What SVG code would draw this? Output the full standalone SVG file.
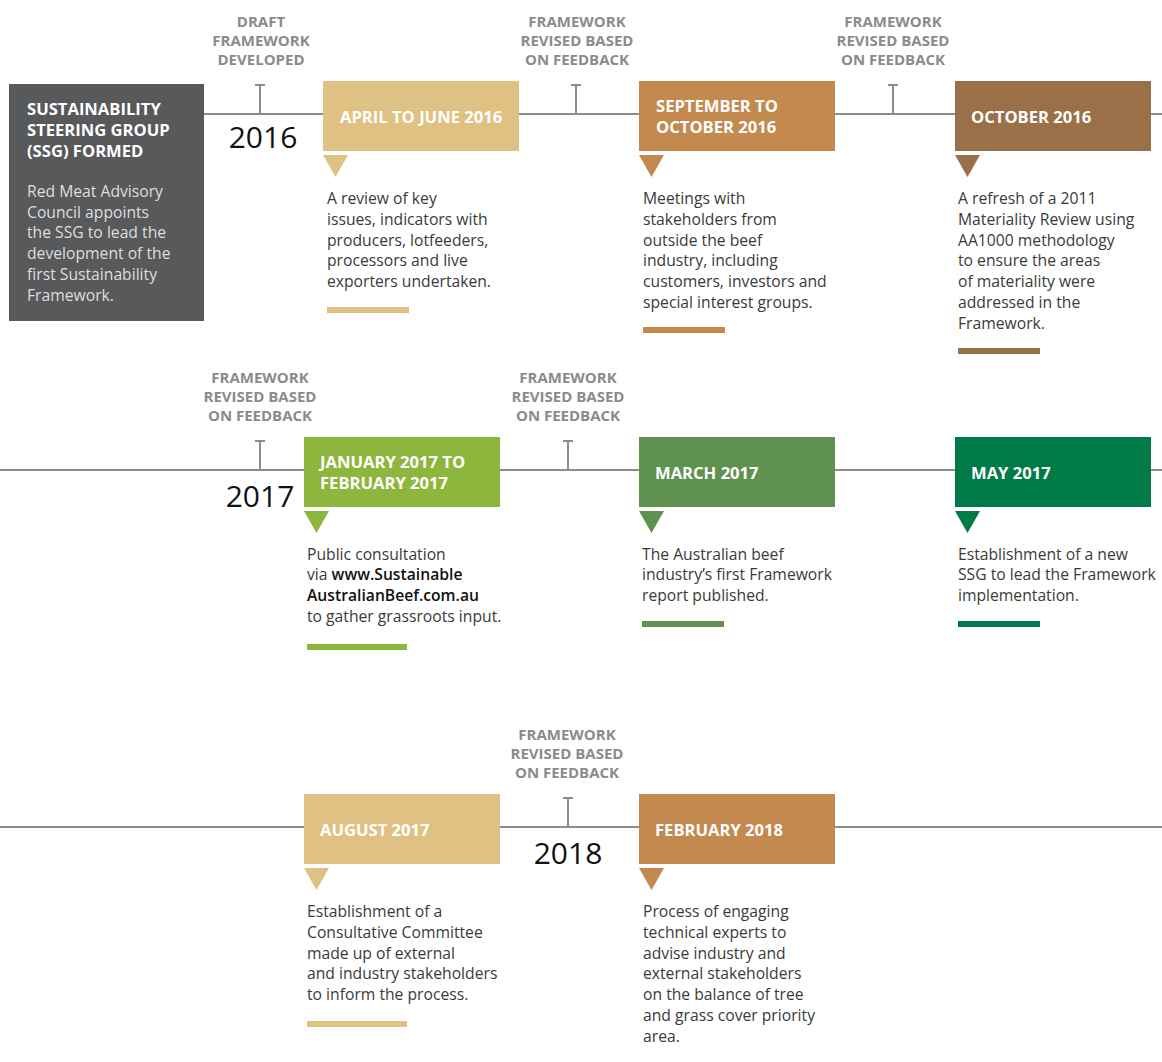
<svg xmlns="http://www.w3.org/2000/svg" width="1162" height="1062" viewBox="0 0 1162 1062">
<style>
text{font-family:"Open Sans","Noto Sans","Liberation Sans",sans-serif}
.tl{stroke:#8c8c8c;stroke-width:2.2;fill:none}
.tick{stroke:#8c8c8c;stroke-width:2;fill:none}
.tlab{font-size:15px;font-weight:700;fill:#8a8b8d;text-anchor:middle}
.yr{font-size:30px;fill:#111;text-anchor:middle}
.hd{font-size:16.6px;font-weight:700;fill:#fff}
.ds{font-size:15.7px;fill:#3a3a3a}
.ssgb{font-size:15.7px;fill:#dedede}
.b{font-weight:600;fill:#111}
.tan{fill:#dfc183}.cop{fill:#c4894f}.brn{fill:#9a7048}
.lime{fill:#8db63c}.mgr{fill:#5f9150}.dgr{fill:#007a47}
</style>
<rect width="1162" height="1062" fill="#fff"/>
<g id="connectors">
<line class="tl" x1="204" y1="114" x2="1162" y2="114"/>
<line class="tl" x1="0" y1="470" x2="1162" y2="470"/>
<line class="tl" x1="0" y1="827" x2="1162" y2="827"/>
<path class="tick" d="M260 85V114M255 85H265"/>
<path class="tick" d="M576 85V114M571 85H581"/>
<path class="tick" d="M893 85V114M888 85H898"/>
<path class="tick" d="M260 441V470M255 441H265"/>
<path class="tick" d="M568 441V470M563 441H573"/>
<path class="tick" d="M568 798V827M563 798H573"/>
</g>
<g id="milestone-draft">
<text class="tlab" x="261" y="27">DRAFT</text>
<text class="tlab" x="261" y="46">FRAMEWORK</text>
<text class="tlab" x="261" y="65">DEVELOPED</text>
</g>
<g id="milestone-rev1">
<text class="tlab" x="577" y="27">FRAMEWORK</text>
<text class="tlab" x="577" y="46">REVISED BASED</text>
<text class="tlab" x="577" y="65">ON FEEDBACK</text>
</g>
<g id="milestone-rev2">
<text class="tlab" x="893" y="27">FRAMEWORK</text>
<text class="tlab" x="893" y="46">REVISED BASED</text>
<text class="tlab" x="893" y="65">ON FEEDBACK</text>
</g>
<g id="milestone-rev3">
<text class="tlab" x="260" y="383">FRAMEWORK</text>
<text class="tlab" x="260" y="402">REVISED BASED</text>
<text class="tlab" x="260" y="421">ON FEEDBACK</text>
</g>
<g id="milestone-rev4">
<text class="tlab" x="568" y="383">FRAMEWORK</text>
<text class="tlab" x="568" y="402">REVISED BASED</text>
<text class="tlab" x="568" y="421">ON FEEDBACK</text>
</g>
<g id="milestone-rev5">
<text class="tlab" x="567" y="740">FRAMEWORK</text>
<text class="tlab" x="567" y="759">REVISED BASED</text>
<text class="tlab" x="567" y="778">ON FEEDBACK</text>
</g>
<g id="years">
<text class="yr" x="263" y="148">2016</text>
<text class="yr" x="260" y="507">2017</text>
<text class="yr" x="568" y="864">2018</text>
</g>
<g id="ssg">
<rect x="9" y="84" width="195" height="237" fill="#58595b"/>
<text class="hd" x="27" y="115">SUSTAINABILITY</text>
<text class="hd" x="27" y="136">STEERING GROUP</text>
<text class="hd" x="27" y="157">(SSG) FORMED</text>
<text class="ssgb" x="27" y="197">Red Meat Advisory</text>
<text class="ssgb" x="27" y="217.7">Council appoints</text>
<text class="ssgb" x="27" y="238.4">the SSG to lead the</text>
<text class="ssgb" x="27" y="259.1">development of the</text>
<text class="ssgb" x="27" y="279.8">first Sustainability</text>
<text class="ssgb" x="27" y="300.5">Framework.</text>
</g>
<g id="apr2016">
<rect class="tan" x="323" y="81" width="196" height="70"/>
<text class="hd" x="340" y="123">APRIL TO JUNE 2016</text>
<polygon class="tan" points="323,155 348,155 335.5,177"/>
<text class="ds" x="327" y="204">A review of key</text>
<text class="ds" x="327" y="224.8">issues, indicators with</text>
<text class="ds" x="327" y="245.6">producers, lotfeeders,</text>
<text class="ds" x="327" y="266.4">processors and live</text>
<text class="ds" x="327" y="287.2">exporters undertaken.</text>
<rect class="tan" x="327" y="307" width="82" height="6"/>
</g>
<g id="sep2016">
<rect class="cop" x="639" y="81" width="196" height="70"/>
<text class="hd" x="656" y="112">SEPTEMBER TO</text>
<text class="hd" x="656" y="133">OCTOBER 2016</text>
<polygon class="cop" points="639,155 664,155 651.5,177"/>
<text class="ds" x="643" y="204">Meetings with</text>
<text class="ds" x="643" y="224.8">stakeholders from</text>
<text class="ds" x="643" y="245.6">outside the beef</text>
<text class="ds" x="643" y="266.4">industry, including</text>
<text class="ds" x="643" y="287.2">customers, investors and</text>
<text class="ds" x="643" y="308">special interest groups.</text>
<rect class="cop" x="643" y="327" width="82" height="6"/>
</g>
<g id="oct2016">
<rect class="brn" x="955" y="81" width="196" height="70"/>
<text class="hd" x="971" y="123">OCTOBER 2016</text>
<polygon class="brn" points="955,155 980,155 967.5,177"/>
<text class="ds" x="958" y="204">A refresh of a 2011</text>
<text class="ds" x="958" y="224.8">Materiality Review using</text>
<text class="ds" x="958" y="245.6">AA1000 methodology</text>
<text class="ds" x="958" y="266.4">to ensure the areas</text>
<text class="ds" x="958" y="287.2">of materiality were</text>
<text class="ds" x="958" y="308">addressed in the</text>
<text class="ds" x="958" y="328.8">Framework.</text>
<rect class="brn" x="958" y="348" width="82" height="6"/>
</g>
<g id="jan2017">
<rect class="lime" x="304" y="437" width="196" height="70"/>
<text class="hd" x="320" y="468">JANUARY 2017 TO</text>
<text class="hd" x="320" y="489">FEBRUARY 2017</text>
<polygon class="lime" points="304,511 329,511 316.5,533"/>
<text class="ds" x="307" y="559.5">Public consultation</text>
<text class="ds" x="307" y="580.3">via <tspan class="b">www.Sustainable</tspan></text>
<text class="ds" x="307" y="601.1"><tspan class="b">AustralianBeef.com.au</tspan></text>
<text class="ds" x="307" y="621.9">to gather grassroots input.</text>
<rect class="lime" x="307" y="644" width="100" height="6"/>
</g>
<g id="mar2017">
<rect class="mgr" x="639" y="437" width="196" height="70"/>
<text class="hd" x="655" y="479">MARCH 2017</text>
<polygon class="mgr" points="639,511 664,511 651.5,533"/>
<text class="ds" x="642" y="559.5">The Australian beef</text>
<text class="ds" x="642" y="580.3">industry’s first Framework</text>
<text class="ds" x="642" y="601.1">report published.</text>
<rect class="mgr" x="642" y="621" width="82" height="6"/>
</g>
<g id="may2017">
<rect class="dgr" x="955" y="437" width="196" height="70"/>
<text class="hd" x="971" y="479">MAY 2017</text>
<polygon class="dgr" points="955,511 980,511 967.5,533"/>
<text class="ds" x="958" y="559.5">Establishment of a new</text>
<text class="ds" x="958" y="580.3">SSG to lead the Framework</text>
<text class="ds" x="958" y="601.1">implementation.</text>
<rect class="dgr" x="958" y="621" width="82" height="6"/>
</g>
<g id="aug2017">
<rect class="tan" x="304" y="794" width="196" height="70"/>
<text class="hd" x="320" y="836">AUGUST 2017</text>
<polygon class="tan" points="304,868 329,868 316.5,890"/>
<text class="ds" x="307" y="917">Establishment of a</text>
<text class="ds" x="307" y="937.8">Consultative Committee</text>
<text class="ds" x="307" y="958.6">made up of external</text>
<text class="ds" x="307" y="979.4">and industry stakeholders</text>
<text class="ds" x="307" y="1000.2">to inform the process.</text>
<rect class="tan" x="307" y="1021" width="100" height="6"/>
</g>
<g id="feb2018">
<rect class="cop" x="639" y="794" width="196" height="70"/>
<text class="hd" x="655" y="836">FEBRUARY 2018</text>
<polygon class="cop" points="639,868 664,868 651.5,890"/>
<text class="ds" x="643" y="917">Process of engaging</text>
<text class="ds" x="643" y="937.8">technical experts to</text>
<text class="ds" x="643" y="958.6">advise industry and</text>
<text class="ds" x="643" y="979.4">external stakeholders</text>
<text class="ds" x="643" y="1000.2">on the balance of tree</text>
<text class="ds" x="643" y="1021">and grass cover priority</text>
<text class="ds" x="643" y="1041.8">area.</text>
</g>
</svg>
